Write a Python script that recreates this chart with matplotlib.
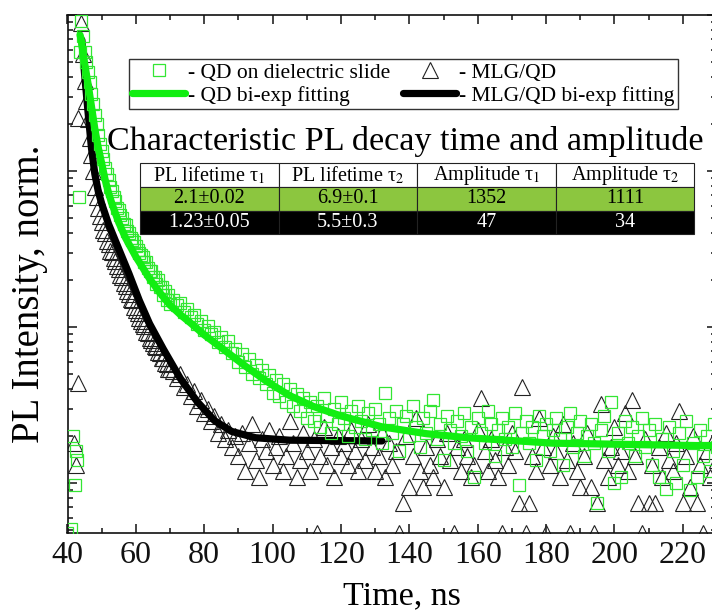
import numpy as np
import matplotlib
matplotlib.use('Agg')
import matplotlib.pyplot as plt
from matplotlib.ticker import MultipleLocator, LogLocator, NullFormatter

plt.rcParams['font.family'] = ['Liberation Serif', 'DejaVu Serif']
plt.rcParams['mathtext.fontset'] = 'stix'

# --- data ---
# QD on dielectric slide (green squares)
sq_pre_t = [40.0, 40.9, 41.7, 42.2, 42.4, 42.7, 43.4, 43.7]
sq_pre = [0.00048, 0.00051, 0.0020, 0.00097, 0.0016, 0.0014, 0.068, 0.58]
# from 44 ns, every 0.5 ns up to 70 ns
sq_fast = [0.91, 0.73, 0.58, 0.50, 0.43, 0.37, 0.31, 0.27, 0.23, 0.20,
           0.17, 0.15, 0.135, 0.12, 0.105, 0.096, 0.088, 0.079, 0.074, 0.068,
           0.064, 0.058, 0.056, 0.052, 0.050, 0.046, 0.045, 0.041, 0.040, 0.037,
           0.036, 0.035, 0.033, 0.031, 0.030, 0.029, 0.028, 0.026, 0.026, 0.024,
           0.023, 0.023, 0.021, 0.021, 0.019, 0.020, 0.018, 0.018, 0.016, 0.017,
           0.015, 0.016, 0.014]
# from 71 ns, every 1 ns
sq_slow = [0.0150, 0.0138, 0.0142, 0.0125, 0.0131, 0.0116, 0.0120, 0.0104, 0.0110, 0.0095,
           0.0101, 0.0090, 0.0093, 0.0080, 0.0086, 0.0074, 0.0081, 0.0068, 0.0072, 0.0060,
           0.0067, 0.0055, 0.0062, 0.0050, 0.0057, 0.0047, 0.0053, 0.0043, 0.0049, 0.0038,
           0.0046, 0.0036, 0.0043, 0.0033, 0.0040, 0.0031, 0.0037, 0.0029, 0.0035, 0.0026,
           0.0033, 0.0025, 0.0031, 0.0023, 0.0035, 0.0027, 0.0021, 0.0030, 0.0024, 0.0033,
           0.0026, 0.0020, 0.0029, 0.0023, 0.0031, 0.0025, 0.0019, 0.0028, 0.0022, 0.0030,
           0.0024, 0.0018, 0.0038, 0.0026, 0.0021, 0.0029, 0.0016, 0.0024, 0.0027, 0.0020,
           0.0031, 0.0023, 0.0017, 0.0026, 0.0021, 0.0029, 0.0034, 0.0019, 0.0024, 0.0014,
           0.0027, 0.0022, 0.0018, 0.0025, 0.0020, 0.0028, 0.0016, 0.0023, 0.0011, 0.0026,
           0.0021, 0.0018, 0.0029, 0.0024, 0.0015, 0.0022, 0.0026, 0.0019, 0.0023, 0.0017,
           0.0028, 0.00097, 0.0021, 0.0025, 0.0018, 0.0023, 0.0014, 0.0027, 0.0020, 0.0024,
           0.0016, 0.0022, 0.0026, 0.0019, 0.0013, 0.0023, 0.0028, 0.0017, 0.0021, 0.0025,
           0.0015, 0.0020, 0.0024, 0.0018, 0.00074, 0.0022, 0.0027, 0.0016, 0.0033, 0.0010,
           0.0021, 0.0011, 0.0025, 0.0018, 0.0023, 0.0015, 0.0020, 0.0026, 0.0017, 0.0022,
           0.0013, 0.0024, 0.0011, 0.0019, 0.00092, 0.0023, 0.0016, 0.0010, 0.0021, 0.0013,
           0.0025, 0.0009, 0.0018, 0.0011, 0.0022, 0.0015, 0.0020, 0.0012, 0.0024, 0.0017,
           0.0021, 0.0014, 0.0019, 0.0023, 0.0016, 0.0020]

# MLG/QD (black triangles)
tri_pre_t = [41.8, 42.5, 43.2, 43.2]
tri_pre = [0.0018, 0.0013, 0.0044, 0.219]
tri_fast = [0.89, 0.56, 0.38, 0.28, 0.214, 0.162, 0.126, 0.100, 0.079, 0.068,
            0.0575, 0.0513, 0.0468, 0.0417, 0.0398, 0.0355, 0.0339, 0.0309, 0.0302, 0.0275,
            0.0263, 0.0245, 0.0234, 0.0214, 0.0209, 0.0191, 0.0182, 0.0170, 0.0162, 0.0151,
            0.0148, 0.0135, 0.0129, 0.0123, 0.0115, 0.0110, 0.0105, 0.0102, 0.0093, 0.0091,
            0.0085, 0.0083, 0.0079, 0.0076, 0.0074, 0.0069, 0.0068, 0.0063, 0.0063, 0.0059,
            0.0058, 0.0054, 0.0054]
tri_slow = [0.0052, 0.0047, 0.0050, 0.0041, 0.0043, 0.0036, 0.0039, 0.0031, 0.0034, 0.0028,
            0.0030, 0.0025, 0.0027, 0.0021, 0.0024, 0.0019, 0.0022, 0.0017, 0.0020, 0.0015,
            0.0021, 0.0012, 0.0018, 0.0024, 0.0014, 0.0011, 0.0019, 0.0016, 0.0022, 0.0013,
            0.0017, 0.0020, 0.0012, 0.0015, 0.0025, 0.0018, 0.0011, 0.0014, 0.0021, 0.0016,
            0.0012, 0.0019, 0.00048, 0.0015, 0.0023, 0.0013, 0.0017, 0.0011, 0.0020, 0.0015,
            0.0018, 0.0013, 0.0022, 0.0016, 0.0012, 0.0019, 0.0014, 0.0024, 0.0017, 0.0012,
            0.0015, 0.0021, 0.0011, 0.0018, 0.0013, 0.0016, 0.00048, 0.00074, 0.0020, 0.00094,
            0.0015, 0.0026, 0.0012, 0.00094, 0.0017, 0.0013, 0.0011, 0.0019, 0.0015, 0.00094,
            0.0021, 0.0014, 0.00048, 0.0017, 0.0012, 0.0019, 0.0015, 0.0011, 0.0013, 0.0022,
            0.0035, 0.0016, 0.0012, 0.0019, 0.0014, 0.0011, 0.00048, 0.0017, 0.0013, 0.0021,
            0.0016, 0.00074, 0.0041, 0.00048, 0.00074, 0.0015, 0.0012, 0.0026, 0.0017, 0.00048,
            0.0013, 0.0020, 0.0016, 0.0011, 0.0024, 0.0014, 0.00048, 0.0018, 0.0012, 0.00094,
            0.0015, 0.0021, 0.00094, 0.00048, 0.00074, 0.0032, 0.0014, 0.0011, 0.0017, 0.0023,
            0.0013, 0.0016, 0.0028, 0.0012, 0.0034, 0.0015, 0.00074, 0.00048, 0.0019, 0.00074,
            0.0013, 0.00074, 0.0017, 0.0011, 0.0021, 0.0014, 0.0012, 0.0018, 0.0029, 0.00074,
            0.0015, 0.00094, 0.0020, 0.00074, 0.0013, 0.00048, 0.0016, 0.0011, 0.0019, 0.0014,
            0.0012, 0.0017, 0.0022, 0.0013, 0.0015, 0.0011]

# bi-exponential fits
fit_qd_t = [43.66, 44, 45, 46, 47, 48, 49, 50, 51, 52, 53, 54, 55, 56, 57, 58, 60, 62, 64, 67,
            70, 73, 76, 80, 86, 92, 98, 105, 112, 120, 132, 145, 157, 182, 236]
fit_qd = [0.745, 0.700, 0.490, 0.363, 0.260, 0.186, 0.141, 0.112, 0.0881, 0.0724,
          0.0617, 0.0537, 0.0468, 0.0417, 0.0372, 0.0339, 0.0282, 0.0240, 0.0204, 0.0166,
          0.0138, 0.0120, 0.0106, 0.0089, 0.00708, 0.00562, 0.00452, 0.00363, 0.00309, 0.00269,
          0.00229, 0.00207, 0.00195, 0.00180, 0.00172]
fit_mlg_t = [44.2, 45, 46, 47, 48, 49, 50, 52, 55, 58, 61, 64, 68, 73, 78, 83, 88, 95, 105, 132]
fit_mlg = [0.692, 0.417, 0.240, 0.141, 0.0955, 0.0741, 0.0617, 0.0457, 0.0316, 0.0219,
           0.0148, 0.0105, 0.00724, 0.00468, 0.00331, 0.00251, 0.00214, 0.00195, 0.00188, 0.00186]

col_labels = ['PL lifetime τ$_1$', 'PL lifetime τ$_2$', 'Amplitude τ$_1$', 'Amplitude τ$_2$']
row_qd = ['2.1±0.02', '6.9±0.1', '1352', '1111']
row_mlg = ['1.23±0.05', '5.5±0.3', '47', '34']

# sample times
t_sq = np.concatenate([sq_pre_t, 44 + 0.5 * np.arange(len(sq_fast)), 71 + np.arange(len(sq_slow))])
y_sq = np.concatenate([sq_pre, sq_fast, sq_slow])
t_tri = np.concatenate([tri_pre_t, 44 + 0.5 * np.arange(len(tri_fast)), 71 + np.arange(len(tri_slow))])
y_tri = np.concatenate([tri_pre, tri_fast, tri_slow])

W, H = 712, 612
fig = plt.figure(figsize=(W / 100, H / 100), dpi=100)
ax = fig.add_axes([67.5 / W, 1 - 532.7 / H, (716 - 67.5) / W, (532.7 - 15) / H])

green_pts = '#33e633'
green_fit = '#11ee11'

tri, = ax.plot(t_tri, y_tri, ls='none', marker='^', ms=11, mfc='none', mec='#222222', mew=0.8,
               label='- MLG/QD', zorder=2)
l_mlg, = ax.plot(fit_mlg_t, fit_mlg, color='black', lw=5.2, label='- MLG/QD bi-exp fitting',
                 solid_capstyle='round', zorder=3)
sq, = ax.plot(t_sq, y_sq, ls='none', marker='s', ms=9, mfc='none', mec=green_pts, mew=0.9,
              label='- QD on dielectric slide', zorder=4)
l_qd, = ax.plot(fit_qd_t, fit_qd, color=green_fit, lw=5.2, label='- QD bi-exp fitting',
                solid_capstyle='round', zorder=5)

ax.set_yscale('log')
ax.set_xlim(40, 229.7)
ax.set_ylim(4.8e-4, 1.0)
ax.xaxis.set_major_locator(MultipleLocator(20))
ax.xaxis.set_minor_locator(MultipleLocator(10))
ax.yaxis.set_major_locator(LogLocator(base=10))
ax.yaxis.set_minor_locator(LogLocator(base=10, subs=np.arange(2, 10)))
ax.yaxis.set_major_formatter(NullFormatter())
ax.yaxis.set_minor_formatter(NullFormatter())
ax.tick_params(which='both', direction='in', top=True, right=True, width=1.1, colors='#111111')
ax.tick_params(which='major', length=6.5, labelsize=23, pad=6)
ax.tick_params(which='minor', length=3.6)
for s in ax.spines.values():
    s.set_linewidth(1.2)
    s.set_color('#111111')

fig.text(402 / W, 1 - 604 / H, 'Time, ns', fontsize=24.5, ha='center', va='baseline')
fig.text(30 / W, 1 - 294 / H, 'PL Intensity, norm.', fontsize=28, rotation=90, ha='center', va='center')

leg = ax.legend([sq, l_qd, tri, l_mlg],
                ['- QD on dielectric slide', '- QD bi-exp fitting', '- MLG/QD', '- MLG/QD bi-exp fitting'],
                ncol=2, loc='upper left', bbox_to_anchor=(129 / W, 1 - 59.3 / H),
                bbox_transform=fig.transFigure, fontsize=15.5, frameon=True, fancybox=False,
                framealpha=1, edgecolor='#333333', borderpad=0.15, labelspacing=0.15,
                handlelength=2.45, handletextpad=0.15, columnspacing=0.6, borderaxespad=0)
leg.get_frame().set_linewidth(1.0)
leg.set_zorder(10)

fig.text(107 / W, 1 - 150 / H, 'Characteristic PL decay time and amplitude', fontsize=24.6,
         ha='left', va='baseline', zorder=10)

x0 = (140 - 67.5) / 648.5
x1 = (694.2 - 67.5) / 648.5
y1 = (532.7 - 163.3) / 517.7
y0 = (532.7 - 234.3) / 517.7
tab = ax.table(cellText=[row_qd, row_mlg], colLabels=col_labels, cellLoc='center',
               bbox=[x0, y0, x1 - x0, y1 - y0], zorder=10)
tab.auto_set_font_size(False)
tab.set_fontsize(14.5)
for (r, c), cell in tab.get_celld().items():
    cell.set_edgecolor('#222222')
    cell.set_linewidth(0.8)
    if r == 0:
        cell.set_facecolor('white')
    elif r == 1:
        cell.set_facecolor('#8cc63f')
    else:
        cell.set_facecolor('black')
        cell.get_text().set_color('white')

fig.savefig('out.png', dpi=100, facecolor='white')
